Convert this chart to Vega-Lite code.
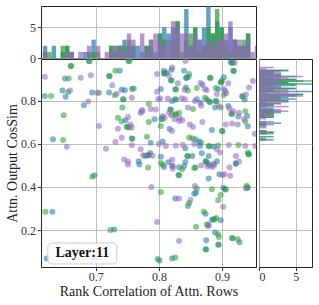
{
"$schema":"https://vega.github.io/schema/vega-lite/v6.json",
"padding":{"left":5,"right":5,"top":5,"bottom":3},
"columns":2,
"bounds":"flush",
"spacing":{"row":1,"column":3},
"datasets":{"pts":[
{"rc":0.660,"cs":0.963,"s":"A"},{"rc":0.689,"cs":0.986,"s":"A"},{"rc":0.651,"cs":0.904,"s":"A"},{"rc":0.647,"cs":0.848,"s":"A"},{"rc":0.619,"cs":0.823,"s":"A"},{"rc":0.652,"cs":0.820,"s":"A"},{"rc":0.694,"cs":0.839,"s":"A"},{"rc":0.681,"cs":0.780,"s":"A"},{"rc":0.632,"cs":0.622,"s":"A"},{"rc":0.721,"cs":0.839,"s":"A"},{"rc":0.721,"cs":0.916,"s":"A"},{"rc":0.738,"cs":0.940,"s":"A"},{"rc":0.741,"cs":0.852,"s":"A"},{"rc":0.746,"cs":0.850,"s":"A"},{"rc":0.760,"cs":0.858,"s":"A"},{"rc":0.743,"cs":0.808,"s":"A"},{"rc":0.747,"cs":0.710,"s":"A"},{"rc":0.749,"cs":0.680,"s":"A"},{"rc":0.757,"cs":0.625,"s":"A"},{"rc":0.768,"cs":0.520,"s":"A"},{"rc":0.771,"cs":0.745,"s":"A"},{"rc":0.779,"cs":0.545,"s":"A"},{"rc":0.752,"cs":0.986,"s":"A"},{"rc":0.916,"cs":0.978,"s":"A"},{"rc":0.808,"cs":0.940,"s":"A"},{"rc":0.631,"cs":0.285,"s":"A"},{"rc":0.698,"cs":0.455,"s":"A"},{"rc":0.729,"cs":0.202,"s":"A"},{"rc":0.622,"cs":0.068,"s":"A"},{"rc":0.697,"cs":0.069,"s":"A"},{"rc":0.769,"cs":0.505,"s":"A"},{"rc":0.808,"cs":0.493,"s":"A"},{"rc":0.832,"cs":0.492,"s":"A"},{"rc":0.840,"cs":0.496,"s":"A"},{"rc":0.858,"cs":0.491,"s":"A"},{"rc":0.881,"cs":0.500,"s":"A"},{"rc":0.877,"cs":0.510,"s":"A"},{"rc":0.922,"cs":0.510,"s":"A"},{"rc":0.831,"cs":0.456,"s":"A"},{"rc":0.879,"cs":0.440,"s":"A"},{"rc":0.896,"cs":0.459,"s":"A"},{"rc":0.902,"cs":0.397,"s":"A"},{"rc":0.905,"cs":0.389,"s":"A"},{"rc":0.940,"cs":0.398,"s":"A"},{"rc":0.856,"cs":0.369,"s":"A"},{"rc":0.859,"cs":0.373,"s":"A"},{"rc":0.826,"cs":0.347,"s":"A"},{"rc":0.846,"cs":0.312,"s":"A"},{"rc":0.874,"cs":0.276,"s":"A"},{"rc":0.879,"cs":0.223,"s":"A"},{"rc":0.884,"cs":0.248,"s":"A"},{"rc":0.887,"cs":0.250,"s":"A"},{"rc":0.898,"cs":0.245,"s":"A"},{"rc":0.889,"cs":0.188,"s":"A"},{"rc":0.916,"cs":0.163,"s":"A"},{"rc":0.928,"cs":0.143,"s":"A"},{"rc":0.875,"cs":0.152,"s":"A"},{"rc":0.894,"cs":0.133,"s":"A"},{"rc":0.874,"cs":0.110,"s":"A"},{"rc":0.801,"cs":0.058,"s":"A"},{"rc":0.821,"cs":0.068,"s":"A"},{"rc":0.914,"cs":0.980,"s":"A"},{"rc":0.918,"cs":0.940,"s":"A"},{"rc":0.808,"cs":0.928,"s":"A"},{"rc":0.812,"cs":0.930,"s":"A"},{"rc":0.820,"cs":0.945,"s":"A"},{"rc":0.840,"cs":0.940,"s":"A"},{"rc":0.847,"cs":0.913,"s":"A"},{"rc":0.843,"cs":0.908,"s":"A"},{"rc":0.881,"cs":0.908,"s":"A"},{"rc":0.903,"cs":0.910,"s":"A"},{"rc":0.898,"cs":0.887,"s":"A"},{"rc":0.819,"cs":0.896,"s":"A"},{"rc":0.843,"cs":0.862,"s":"A"},{"rc":0.826,"cs":0.854,"s":"A"},{"rc":0.803,"cs":0.855,"s":"A"},{"rc":0.869,"cs":0.875,"s":"A"},{"rc":0.894,"cs":0.855,"s":"A"},{"rc":0.905,"cs":0.846,"s":"A"},{"rc":0.932,"cs":0.822,"s":"A"},{"rc":0.936,"cs":0.807,"s":"A"},{"rc":0.826,"cs":0.808,"s":"A"},{"rc":0.821,"cs":0.800,"s":"A"},{"rc":0.860,"cs":0.808,"s":"A"},{"rc":0.866,"cs":0.792,"s":"A"},{"rc":0.876,"cs":0.808,"s":"A"},{"rc":0.880,"cs":0.796,"s":"A"},{"rc":0.890,"cs":0.800,"s":"A"},{"rc":0.889,"cs":0.769,"s":"A"},{"rc":0.910,"cs":0.776,"s":"A"},{"rc":0.793,"cs":0.715,"s":"A"},{"rc":0.806,"cs":0.729,"s":"A"},{"rc":0.804,"cs":0.716,"s":"A"},{"rc":0.818,"cs":0.760,"s":"A"},{"rc":0.826,"cs":0.738,"s":"A"},{"rc":0.884,"cs":0.665,"s":"A"},{"rc":0.900,"cs":0.660,"s":"A"},{"rc":0.915,"cs":0.740,"s":"A"},{"rc":0.926,"cs":0.728,"s":"A"},{"rc":0.941,"cs":0.682,"s":"A"},{"rc":0.940,"cs":0.730,"s":"A"},{"rc":0.817,"cs":0.670,"s":"A"},{"rc":0.858,"cs":0.622,"s":"A"},{"rc":0.864,"cs":0.612,"s":"A"},{"rc":0.865,"cs":0.590,"s":"A"},{"rc":0.879,"cs":0.590,"s":"A"},{"rc":0.887,"cs":0.588,"s":"A"},{"rc":0.868,"cs":0.557,"s":"A"},{"rc":0.879,"cs":0.544,"s":"A"},{"rc":0.806,"cs":0.612,"s":"A"},{"rc":0.842,"cs":0.580,"s":"A"},{"rc":0.787,"cs":0.606,"s":"A"},{"rc":0.786,"cs":0.558,"s":"A"},{"rc":0.783,"cs":0.548,"s":"A"},{"rc":0.803,"cs":0.540,"s":"A"},{"rc":0.815,"cs":0.515,"s":"A"},{"rc":0.822,"cs":0.498,"s":"A"},{"rc":0.845,"cs":0.544,"s":"A"},{"rc":0.853,"cs":0.544,"s":"A"},{"rc":0.842,"cs":0.516,"s":"A"},{"rc":0.874,"cs":0.520,"s":"A"},{"rc":0.892,"cs":0.520,"s":"A"},{"rc":0.922,"cs":0.508,"s":"A"},{"rc":0.942,"cs":0.552,"s":"A"},
{"rc":0.661,"cs":0.962,"s":"B"},{"rc":0.690,"cs":0.985,"s":"B"},{"rc":0.657,"cs":0.904,"s":"B"},{"rc":0.656,"cs":0.842,"s":"B"},{"rc":0.629,"cs":0.823,"s":"B"},{"rc":0.705,"cs":0.838,"s":"B"},{"rc":0.649,"cs":0.733,"s":"B"},{"rc":0.648,"cs":0.619,"s":"B"},{"rc":0.722,"cs":0.915,"s":"B"},{"rc":0.731,"cs":0.940,"s":"B"},{"rc":0.730,"cs":0.826,"s":"B"},{"rc":0.757,"cs":0.855,"s":"B"},{"rc":0.744,"cs":0.807,"s":"B"},{"rc":0.742,"cs":0.769,"s":"B"},{"rc":0.735,"cs":0.722,"s":"B"},{"rc":0.741,"cs":0.705,"s":"B"},{"rc":0.750,"cs":0.679,"s":"B"},{"rc":0.753,"cs":0.676,"s":"B"},{"rc":0.758,"cs":0.624,"s":"B"},{"rc":0.781,"cs":0.634,"s":"B"},{"rc":0.753,"cs":0.985,"s":"B"},{"rc":0.917,"cs":0.977,"s":"B"},{"rc":0.620,"cs":0.285,"s":"B"},{"rc":0.694,"cs":0.447,"s":"B"},{"rc":0.723,"cs":0.200,"s":"B"},{"rc":0.783,"cs":0.490,"s":"B"},{"rc":0.806,"cs":0.503,"s":"B"},{"rc":0.837,"cs":0.483,"s":"B"},{"rc":0.856,"cs":0.488,"s":"B"},{"rc":0.888,"cs":0.503,"s":"B"},{"rc":0.832,"cs":0.455,"s":"B"},{"rc":0.803,"cs":0.377,"s":"B"},{"rc":0.860,"cs":0.393,"s":"B"},{"rc":0.884,"cs":0.389,"s":"B"},{"rc":0.906,"cs":0.388,"s":"B"},{"rc":0.939,"cs":0.406,"s":"B"},{"rc":0.941,"cs":0.397,"s":"B"},{"rc":0.898,"cs":0.363,"s":"B"},{"rc":0.848,"cs":0.325,"s":"B"},{"rc":0.894,"cs":0.338,"s":"B"},{"rc":0.871,"cs":0.285,"s":"B"},{"rc":0.859,"cs":0.215,"s":"B"},{"rc":0.876,"cs":0.226,"s":"B"},{"rc":0.888,"cs":0.249,"s":"B"},{"rc":0.891,"cs":0.256,"s":"B"},{"rc":0.894,"cs":0.180,"s":"B"},{"rc":0.895,"cs":0.167,"s":"B"},{"rc":0.917,"cs":0.162,"s":"B"},{"rc":0.925,"cs":0.157,"s":"B"},{"rc":0.895,"cs":0.132,"s":"B"},{"rc":0.875,"cs":0.109,"s":"B"},{"rc":0.798,"cs":0.065,"s":"B"},{"rc":0.826,"cs":0.072,"s":"B"},{"rc":0.919,"cs":0.939,"s":"B"},{"rc":0.809,"cs":0.927,"s":"B"},{"rc":0.848,"cs":0.925,"s":"B"},{"rc":0.844,"cs":0.907,"s":"B"},{"rc":0.882,"cs":0.907,"s":"B"},{"rc":0.900,"cs":0.895,"s":"B"},{"rc":0.899,"cs":0.886,"s":"B"},{"rc":0.820,"cs":0.895,"s":"B"},{"rc":0.846,"cs":0.848,"s":"B"},{"rc":0.827,"cs":0.853,"s":"B"},{"rc":0.860,"cs":0.860,"s":"B"},{"rc":0.890,"cs":0.860,"s":"B"},{"rc":0.903,"cs":0.828,"s":"B"},{"rc":0.933,"cs":0.821,"s":"B"},{"rc":0.827,"cs":0.807,"s":"B"},{"rc":0.873,"cs":0.815,"s":"B"},{"rc":0.881,"cs":0.795,"s":"B"},{"rc":0.891,"cs":0.799,"s":"B"},{"rc":0.898,"cs":0.769,"s":"B"},{"rc":0.784,"cs":0.787,"s":"B"},{"rc":0.784,"cs":0.702,"s":"B"},{"rc":0.803,"cs":0.684,"s":"B"},{"rc":0.805,"cs":0.715,"s":"B"},{"rc":0.819,"cs":0.759,"s":"B"},{"rc":0.820,"cs":0.733,"s":"B"},{"rc":0.827,"cs":0.737,"s":"B"},{"rc":0.832,"cs":0.745,"s":"B"},{"rc":0.854,"cs":0.762,"s":"B"},{"rc":0.901,"cs":0.659,"s":"B"},{"rc":0.916,"cs":0.739,"s":"B"},{"rc":0.937,"cs":0.705,"s":"B"},{"rc":0.937,"cs":0.752,"s":"B"},{"rc":0.848,"cs":0.630,"s":"B"},{"rc":0.853,"cs":0.625,"s":"B"},{"rc":0.867,"cs":0.606,"s":"B"},{"rc":0.880,"cs":0.589,"s":"B"},{"rc":0.894,"cs":0.593,"s":"B"},{"rc":0.926,"cs":0.595,"s":"B"},{"rc":0.784,"cs":0.547,"s":"B"},{"rc":0.803,"cs":0.512,"s":"B"},{"rc":0.846,"cs":0.543,"s":"B"},{"rc":0.875,"cs":0.519,"s":"B"},{"rc":0.941,"cs":0.560,"s":"B"},{"rc":0.943,"cs":0.551,"s":"B"},
{"rc":0.619,"cs":0.913,"s":"C"},{"rc":0.676,"cs":0.908,"s":"C"},{"rc":0.692,"cs":0.919,"s":"C"},{"rc":0.659,"cs":0.849,"s":"C"},{"rc":0.702,"cs":0.838,"s":"C"},{"rc":0.688,"cs":0.797,"s":"C"},{"rc":0.705,"cs":0.684,"s":"C"},{"rc":0.654,"cs":0.587,"s":"C"},{"rc":0.716,"cs":0.578,"s":"C"},{"rc":0.726,"cs":0.873,"s":"C"},{"rc":0.733,"cs":0.834,"s":"C"},{"rc":0.751,"cs":0.725,"s":"C"},{"rc":0.755,"cs":0.690,"s":"C"},{"rc":0.757,"cs":0.676,"s":"C"},{"rc":0.735,"cs":0.671,"s":"C"},{"rc":0.741,"cs":0.629,"s":"C"},{"rc":0.731,"cs":0.609,"s":"C"},{"rc":0.757,"cs":0.594,"s":"C"},{"rc":0.745,"cs":0.528,"s":"C"},{"rc":0.751,"cs":0.518,"s":"C"},{"rc":0.757,"cs":0.815,"s":"C"},{"rc":0.774,"cs":0.752,"s":"C"},{"rc":0.775,"cs":0.548,"s":"C"},{"rc":0.821,"cs":0.955,"s":"C"},{"rc":0.920,"cs":0.978,"s":"C"},{"rc":0.751,"cs":0.505,"s":"C"},{"rc":0.821,"cs":0.497,"s":"C"},{"rc":0.822,"cs":0.485,"s":"C"},{"rc":0.867,"cs":0.500,"s":"C"},{"rc":0.877,"cs":0.495,"s":"C"},{"rc":0.885,"cs":0.493,"s":"C"},{"rc":0.912,"cs":0.490,"s":"C"},{"rc":0.901,"cs":0.455,"s":"C"},{"rc":0.904,"cs":0.459,"s":"C"},{"rc":0.913,"cs":0.452,"s":"C"},{"rc":0.788,"cs":0.400,"s":"C"},{"rc":0.857,"cs":0.405,"s":"C"},{"rc":0.938,"cs":0.393,"s":"C"},{"rc":0.832,"cs":0.347,"s":"C"},{"rc":0.850,"cs":0.340,"s":"C"},{"rc":0.902,"cs":0.308,"s":"C"},{"rc":0.797,"cs":0.237,"s":"C"},{"rc":0.878,"cs":0.218,"s":"C"},{"rc":0.832,"cs":0.149,"s":"C"},{"rc":0.842,"cs":0.986,"s":"C"},{"rc":0.816,"cs":0.918,"s":"C"},{"rc":0.797,"cs":0.925,"s":"C"},{"rc":0.910,"cs":0.882,"s":"C"},{"rc":0.943,"cs":0.862,"s":"C"},{"rc":0.949,"cs":0.893,"s":"C"},{"rc":0.830,"cs":0.882,"s":"C"},{"rc":0.841,"cs":0.852,"s":"C"},{"rc":0.797,"cs":0.843,"s":"C"},{"rc":0.866,"cs":0.883,"s":"C"},{"rc":0.873,"cs":0.855,"s":"C"},{"rc":0.876,"cs":0.850,"s":"C"},{"rc":0.903,"cs":0.857,"s":"C"},{"rc":0.892,"cs":0.832,"s":"C"},{"rc":0.907,"cs":0.836,"s":"C"},{"rc":0.938,"cs":0.830,"s":"C"},{"rc":0.802,"cs":0.813,"s":"C"},{"rc":0.814,"cs":0.810,"s":"C"},{"rc":0.799,"cs":0.808,"s":"C"},{"rc":0.836,"cs":0.812,"s":"C"},{"rc":0.841,"cs":0.808,"s":"C"},{"rc":0.857,"cs":0.800,"s":"C"},{"rc":0.867,"cs":0.778,"s":"C"},{"rc":0.895,"cs":0.776,"s":"C"},{"rc":0.912,"cs":0.765,"s":"C"},{"rc":0.773,"cs":0.758,"s":"C"},{"rc":0.787,"cs":0.762,"s":"C"},{"rc":0.795,"cs":0.760,"s":"C"},{"rc":0.809,"cs":0.721,"s":"C"},{"rc":0.816,"cs":0.745,"s":"C"},{"rc":0.833,"cs":0.721,"s":"C"},{"rc":0.825,"cs":0.715,"s":"C"},{"rc":0.832,"cs":0.707,"s":"C"},{"rc":0.837,"cs":0.710,"s":"C"},{"rc":0.849,"cs":0.690,"s":"C"},{"rc":0.854,"cs":0.680,"s":"C"},{"rc":0.846,"cs":0.770,"s":"C"},{"rc":0.869,"cs":0.702,"s":"C"},{"rc":0.906,"cs":0.690,"s":"C"},{"rc":0.916,"cs":0.695,"s":"C"},{"rc":0.925,"cs":0.690,"s":"C"},{"rc":0.918,"cs":0.752,"s":"C"},{"rc":0.927,"cs":0.745,"s":"C"},{"rc":0.935,"cs":0.715,"s":"C"},{"rc":0.821,"cs":0.660,"s":"C"},{"rc":0.856,"cs":0.600,"s":"C"},{"rc":0.892,"cs":0.575,"s":"C"},{"rc":0.897,"cs":0.560,"s":"C"},{"rc":0.811,"cs":0.590,"s":"C"},{"rc":0.800,"cs":0.600,"s":"C"},{"rc":0.827,"cs":0.592,"s":"C"},{"rc":0.838,"cs":0.595,"s":"C"},{"rc":0.911,"cs":0.595,"s":"C"},{"rc":0.937,"cs":0.590,"s":"C"},{"rc":0.771,"cs":0.575,"s":"C"},{"rc":0.790,"cs":0.545,"s":"C"},{"rc":0.778,"cs":0.545,"s":"C"},{"rc":0.821,"cs":0.527,"s":"C"},{"rc":0.886,"cs":0.508,"s":"C"},{"rc":0.922,"cs":0.544,"s":"C"},{"rc":0.927,"cs":0.518,"s":"C"},{"rc":0.952,"cs":0.648,"s":"C"},{"rc":0.953,"cs":0.590,"s":"C"}
]},
"concat":[
{
"width":215,"height":52,
"data":{"name":"pts"},
"transform":[{"bin":{"extent":[0.612,0.955],"step":0.007},"field":"rc","as":["b0","b1"]},{"aggregate":[{"op":"count","as":"n"}],"groupby":["b0","b1","s"]}],
"mark":{"type":"rect","opacity":0.7,"clip":true},
"encoding":{
"x":{"field":"b0","type":"quantitative","scale":{"domain":[0.613,0.954],"nice":false,"zero":false},"axis":{"values":[0.7,0.8,0.9],"labels":false,"ticks":false,"title":null,"minExtent":0,"maxExtent":0}},
"x2":{"field":"b1"},
"y":{"field":"n","type":"quantitative","scale":{"domain":[0,8.5],"nice":false},"axis":{"values":[0,5],"title":null}},
"y2":{"datum":0},
"color":{"field":"s","type":"nominal","scale":{"domain":["A","B","C"],"range":["#1f77b4","#2ca02c","#9467bd"]},"legend":null}
}
},
{
"width":53,"height":52,
"data":{"values":[]},
"mark":{"type":"point"},
"encoding":{},
"view":{"stroke":null}
},
{
"width":215,"height":208,
"layer":[
{"data":{"name":"pts"},"mark":{"type":"circle","size":36,"opacity":0.56,"clip":true},
"encoding":{
"x":{"field":"rc","type":"quantitative","scale":{"domain":[0.613,0.954],"nice":false,"zero":false},"axis":{"values":[0.7,0.8,0.9],"format":".1f","title":"Rank Correlation of Attn. Rows","labelPadding":1,"titlePadding":2}},
"y":{"field":"cs","type":"quantitative","scale":{"domain":[0.028,0.995],"nice":false,"zero":false},"axis":{"values":[0.2,0.4,0.6,0.8],"format":".1f","title":"Attn. Output CosSim","titlePadding":1}},
"color":{"field":"s","type":"nominal","scale":{"domain":["A","B","C"],"range":["#1f77b4","#2ca02c","#9467bd"]},"legend":null}
}},
{"data":{"values":[{"label":"Layer:11"}]},"mark":{"type":"rect","fill":"white","fillOpacity":0.8,"stroke":"#cccccc","strokeWidth":1,"cornerRadius":4},
"encoding":{"x":{"datum":0.6238},"x2":{"datum":0.7333},"y":{"datum":0.1395},"y2":{"datum":0.042}}},
{"data":{"values":[{"label":"Layer:11"}]},"mark":{"type":"text","font":"Liberation Serif","fontWeight":"bold","fontSize":14,"color":"#111"},
"encoding":{"x":{"datum":0.6786},"y":{"datum":0.091},"text":{"field":"label"}}}
]
},
{
"width":53,"height":208,
"data":{"name":"pts"},
"transform":[{"bin":{"extent":[0.02,1.0],"step":0.02},"field":"cs","as":["b0","b1"]},{"aggregate":[{"op":"count","as":"n"}],"groupby":["b0","b1","s"]}],
"mark":{"type":"rect","opacity":0.7,"clip":true},
"encoding":{
"y":{"field":"b0","type":"quantitative","scale":{"domain":[0.028,0.995],"nice":false,"zero":false},"axis":{"values":[0.2,0.4,0.6,0.8],"labels":false,"ticks":false,"title":null,"minExtent":0,"maxExtent":0}},
"y2":{"field":"b1"},
"x":{"field":"n","type":"quantitative","scale":{"domain":[0,7.2],"nice":false},"axis":{"values":[0,5],"title":null,"labelPadding":1}},
"x2":{"datum":0},
"color":{"field":"s","type":"nominal","scale":{"domain":["A","B","C"],"range":["#1f77b4","#2ca02c","#9467bd"]},"legend":null}
}
}
],
"config":{
"font":"Liberation Serif",
"view":{"stroke":"#262626","strokeWidth":1},
"axis":{"labelFont":"Liberation Serif","titleFont":"Liberation Serif","labelFontSize":12,"titleFontSize":14,"titleFontWeight":"normal","labelColor":"#333","titleColor":"#222","gridColor":"#b0b0b0","gridWidth":0.8,"domain":false,"tickColor":"#333","tickSize":3.5,"labelPadding":2,"titlePadding":3}
}
}
